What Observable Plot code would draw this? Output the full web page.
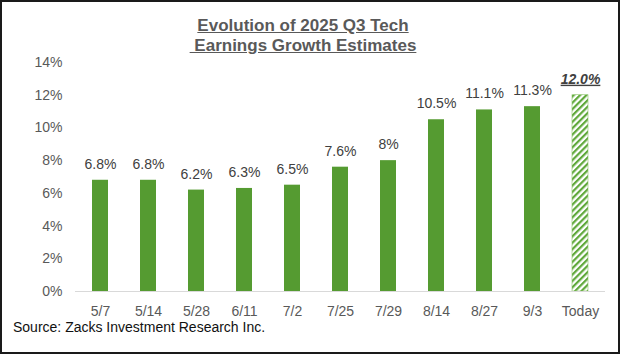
<!DOCTYPE html>
<html>
<head>
<meta charset="utf-8">
<script src="https://cdn.jsdelivr.net/npm/d3@7"></script>
<script src="https://cdn.jsdelivr.net/npm/@observablehq/plot@0.6"></script>
<style>
  html, body { margin: 0; padding: 0; background: #fff; }
  #wrap { position: relative; width: 620px; height: 354px; overflow: hidden; background: #fff; font-family: "Liberation Sans", Arial, sans-serif; }
  #frame { position: absolute; left: 0; top: 0; width: 620px; height: 354px; box-sizing: border-box; border: 2px solid #1a1a1a; pointer-events: none; }
  #title { position: absolute; left: 0; top: 16px; width: 606px; text-align: center; font-size: 17px; font-weight: bold; color: #595959; line-height: 20px; text-decoration: underline; white-space: pre; }
  #chart { position: absolute; left: 0; top: 50px; }
  #source { position: absolute; left: 13px; top: 319px; font-size: 14px; color: #111; }
</style>
</head>
<body>
<div id="wrap">
  <div id="title">Evolution of 2025 Q3 Tech
 Earnings Growth Estimates</div>
  <div id="chart"></div>
  <div id="source">Source: Zacks Investment Research Inc.</div>
  <div id="frame"></div>
</div>
<script>
const dates = ["5/7", "5/14", "5/28", "6/11", "7/2", "7/25", "7/29", "8/14", "8/27", "9/3", "Today"];
const growth = [6.8, 6.8, 6.2, 6.3, 6.5, 7.6, 8.0, 10.5, 11.1, 11.3, 12.0];
const valueLabels = ["6.8%", "6.8%", "6.2%", "6.3%", "6.5%", "7.6%", "8%", "10.5%", "11.1%", "11.3%", "12.0%"];
const yTicks = [0, 2, 4, 6, 8, 10, 12, 14];

const data = dates.map((d, i) => ({date: d, value: growth[i], label: valueLabels[i], today: d === "Today"}));
const hist = data.filter(d => !d.today);
const today = data.filter(d => d.today);

const green = "#559b31";
const gray = "#595959";

const chart = Plot.plot({
  width: 620,
  height: 271,
  marginLeft: 75,
  marginRight: 15,
  marginTop: 12,
  marginBottom: 30,
  style: {fontFamily: "Liberation Sans, Arial, sans-serif", fontSize: "14px", color: gray, background: "transparent"},
  x: {domain: dates, paddingInner: 0.668, paddingOuter: 0.334, label: null, tickSize: 0, tickPadding: 15},
  y: {domain: [0, 14], ticks: yTicks, tickFormat: d => d + "%", label: null, tickSize: 0, tickPadding: 13},
  marks: [
    Plot.barY(hist, {x: "date", y: "value", fill: green}),
    Plot.barY(today, {x: "date", y: "value", fill: "url(#hatch)", stroke: "#8cc46a", strokeWidth: 0.6}),
    Plot.ruleY([0], {stroke: "#d9d9d9", strokeWidth: 1}),
    Plot.text(hist, {x: "date", y: "value", text: "label", dy: -16, fill: "#404040", fontSize: 14}),
    Plot.text(today, {x: "date", y: "value", text: "label", dy: -16, fill: "#404040", fontSize: 14, fontWeight: "bold", fontStyle: "italic"})
  ]
});

const svg = d3.select(chart);
const defs = svg.insert("defs", ":first-child");
const pat = defs.append("pattern")
  .attr("id", "hatch")
  .attr("patternUnits", "userSpaceOnUse")
  .attr("width", 4.5).attr("height", 4.5)
  .attr("patternTransform", "rotate(45)");
pat.append("rect").attr("width", 4.5).attr("height", 4.5).attr("fill", "#ffffff");
pat.append("rect").attr("width", 2.2).attr("height", 4.5).attr("fill", "#5fa83a");

svg.selectAll("text").filter(function() { return this.textContent === "12.0%"; })
  .style("text-decoration", "underline");

document.getElementById("chart").appendChild(chart);
</script>
</body>
</html>
